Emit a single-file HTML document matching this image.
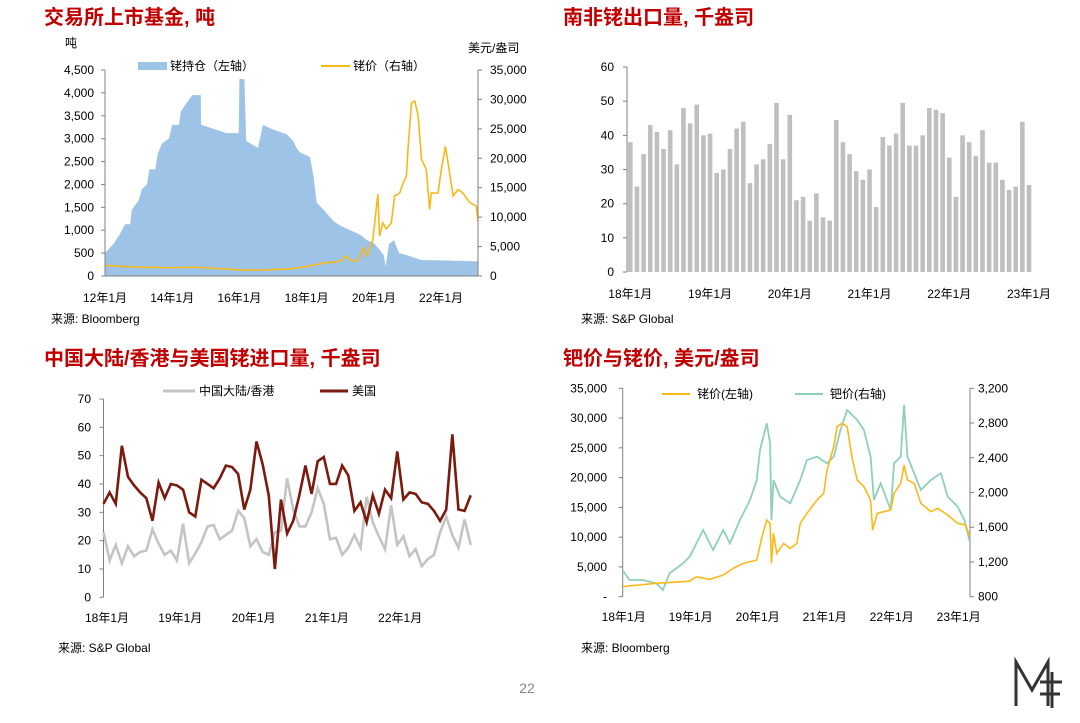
<!DOCTYPE html>
<html><head><meta charset="utf-8"><style>
html,body{margin:0;padding:0;background:#fff;}
svg{display:block;font-family:"Liberation Sans","Noto Sans CJK SC",sans-serif;}
.t{font-size:20px;font-weight:bold;fill:#c00000;}
.l{font-size:12px;fill:#000;}
.s{font-size:12px;fill:#000;}
</style></head><body>
<svg id="pg" width="1080" height="723" viewBox="0 0 1080 723">
<text class="t" x="44" y="24">交易所上市基金, 吨</text>
<text class="t" x="563" y="24">南非铑出口量, 千盎司</text>
<text class="t" x="44" y="365">中国大陆/香港与美国铑进口量, 千盎司</text>
<text class="t" x="563" y="365">钯价与铑价, 美元/盎司</text>
<text class="s" x="51" y="323">来源: Bloomberg</text>
<text class="s" x="581" y="323">来源: S&amp;P Global</text>
<text class="s" x="58" y="652">来源: S&amp;P Global</text>
<text class="s" x="581" y="652">来源: Bloomberg</text>
<text x="527" y="693" text-anchor="middle" font-size="14" fill="#888">22</text>
<g stroke="#333" stroke-width="3" fill="none">
<path d="M1016 706 L1016 662 L1032 690 L1048 662 L1048 706 M1040 682 L1062 682 M1040 694 L1060 694 M1052 672 L1052 708"/>
</g>
<g id="c1"></g><g id="c2"></g><g id="c3"></g><g id="c4"></g>
</svg>
<script>
// ---------- chart 1 data ----------
const holdT=[0,0.25,0.43,0.6,0.75,0.8,1.0,1.1,1.25,1.32,1.5,1.57,1.7,1.9,2.0,2.2,2.26,2.45,2.6,2.85,2.86,3.0,3.6,3.98,4.0,4.15,4.2,4.55,4.7,5.0,5.4,5.6,5.7,5.8,6.1,6.2,6.3,6.5,6.8,7.0,7.3,7.6,7.8,8.0,8.2,8.3,8.35,8.4,8.45,8.6,8.75,9.0,9.3,9.4,10,11.1];
const holdV=[500,700,900,1130,1130,1450,1650,1900,2000,2330,2330,2680,2900,3000,3300,3300,3600,3800,3950,3950,3300,3270,3120,3120,4300,4300,2950,2800,3300,3200,3100,2950,2800,2700,2600,2200,1600,1450,1200,1100,1000,900,780,720,550,450,200,450,700,780,500,450,380,350,340,320];
const priceT=[0,1,2,2.6,3,4,4.5,5,5.5,6,6.5,7,7.18,7.3,7.5,7.6,7.68,7.8,7.97,8.12,8.17,8.27,8.37,8.52,8.62,8.77,8.87,8.97,9.02,9.12,9.22,9.32,9.42,9.56,9.66,9.71,9.91,10.01,10.13,10.21,10.36,10.51,10.65,10.85,11.05,11.1];
const priceV=[1800,1500,1400,1500,1400,1050,1000,1100,1200,1600,2200,2500,3400,2700,2500,3300,4800,3400,6100,13900,6800,9000,8000,9000,13600,14100,15800,17000,21800,29400,29700,27200,19800,18100,11300,14100,14100,18100,22000,19200,13600,14700,14100,12500,11900,9300];
const c1LeftTicks=[0,500,1000,1500,2000,2500,3000,3500,4000,4500];
const c1RightTicks=[0,5000,10000,15000,20000,25000,30000,35000];
const c1XLabels=["12年1月","14年1月","16年1月","18年1月","20年1月","22年1月"];
// ---------- chart 2 data ----------
const exportVals=[38,25,34.5,43,41,36,41.5,31.5,48,43.5,49,40,40.5,29,30,36,42,44,26,31.5,33,37.5,49.5,33,46,21,22,15,23,16,15,44.5,38,34.5,29.5,27,30,19,39.5,37,40.5,49.5,37,37,40,48,47.5,46.5,33.5,22,40,38,34,41.5,32,32,27,24,25,44,25.5];
const c2Ticks=[0,10,20,30,40,50,60];
const c2XLabels=["18年1月","19年1月","20年1月","21年1月","22年1月","23年1月"];
// ---------- chart 3 data ----------
const usVals=[33,37,33,53.5,42.5,39.5,37,35,27,40.5,35,40,39.5,38,30,28.5,41.5,40,38.5,42,46.5,46,43.5,31,38,55,47,36,10,34.5,22.5,27,36,46.5,36.5,48,49.5,40,40,46.5,43,30.5,33.5,26.5,36,29.5,38,35,51.5,34.5,37,36.5,33.5,33,30.5,27,31,57.5,31,30.5,36];
const cnVals=[23,13,18.5,12,18,14.5,16,16.5,24,19,15,16.5,13,26,12,15.5,19.5,25,25.5,20.5,22,23.5,30.5,28,18,20.5,16,15,23,23.5,42,31,25,25,30,38.5,33,20.5,21,15,17.5,22,17.5,35.5,26.5,21.5,17,32.5,18.5,21.5,14.5,17,11,13.5,15,23,28.5,22,17.5,27.5,18.5];
const c3Ticks=[0,10,20,30,40,50,60,70];
const c3XLabels=["18年1月","19年1月","20年1月","21年1月","22年1月"];
// ---------- chart 4 data ----------
const rhT=[0,0.5,1,1.1,1.3,1.5,1.65,1.8,2.0,2.08,2.15,2.2,2.22,2.25,2.3,2.4,2.5,2.6,2.65,2.75,2.9,3.0,3.05,3.15,3.2,3.27,3.35,3.42,3.5,3.6,3.7,3.73,3.8,4.0,4.05,4.15,4.2,4.25,4.35,4.45,4.6,4.7,4.85,5.0,5.12,5.18];
const rhV=[1700,2250,2600,3360,2900,3640,4760,5600,6160,10080,12880,12300,5600,10640,7280,8960,8120,8960,12300,14000,16240,17360,21280,25200,28560,29120,28560,23520,19600,18480,16240,11200,14000,14560,17360,19040,22120,19600,19040,15680,14280,14840,13720,12320,12040,10080];
const pdT=[0,0.1,0.3,0.5,0.6,0.7,0.9,1.0,1.1,1.2,1.35,1.5,1.6,1.75,1.9,2.0,2.05,2.15,2.2,2.22,2.25,2.35,2.5,2.65,2.75,2.9,3.05,3.15,3.25,3.35,3.5,3.6,3.7,3.75,3.85,4.0,4.05,4.15,4.2,4.25,4.35,4.45,4.6,4.75,4.85,5.0,5.1,5.18];
const pdV=[1107,992,992,954,877,1069,1184,1261,1414,1568,1338,1568,1414,1683,1914,2144,2490,2797,2568,1683,2144,1952,1875,2144,2374,2413,2336,2413,2720,2950,2835,2720,2413,1914,2106,1798,2336,2413,3008,2413,2221,2029,2144,2221,1952,1837,1683,1434];
const c4LeftTicks=[0,5000,10000,15000,20000,25000,30000,35000];
const c4RightTicks=[800,1200,1600,2000,2400,2800,3200];
const c4XLabels=["18年1月","19年1月","20年1月","21年1月","22年1月","23年1月"];

const NS="http://www.w3.org/2000/svg";
function mk(parent,tag,attrs,text){const e=document.createElementNS(NS,tag);for(const k in attrs)e.setAttribute(k,attrs[k]);if(text!==undefined)e.textContent=text;parent.appendChild(e);return e;}
function fmt(v){return v.toLocaleString('en-US');}
function line(g,x1,y1,x2,y2,c){return mk(g,'line',{x1,y1,x2,y2,stroke:c||'#808080','stroke-width':1});}

// ===== chart 1 =====
(function(){
const g=document.getElementById('c1');
const X0=105,X1=478,Y0=276,Y1=70;
const x=t=>X0+t*(X1-X0)/11.1;
const yl=v=>Y0-v*(Y0-Y1)/4500;
const yr=v=>Y0-v*(Y0-Y1)/35000;
let d='M'+x(holdT[0])+','+Y0;
holdT.forEach((t,i)=>{d+=' L'+x(t)+','+yl(holdV[i]);});
d+=' L'+x(holdT[holdT.length-1])+','+Y0+' Z';
let a=mk(g,'path',{d,fill:'#9dc3e6'});


let p=mk(g,'polyline',{points:priceT.map((t,i)=>x(t)+','+yr(priceV[i])).join(' '),fill:'none',stroke:'#f9b815','stroke-width':1.6});


line(g,X0,Y1,X0,Y0);line(g,X1,Y1,X1,Y0);line(g,X0,Y0,X1,Y0);
c1LeftTicks.forEach(v=>{line(g,X0-4,yl(v),X0,yl(v));let t=mk(g,'text',{x:94,y:yl(v)+4,'text-anchor':'end',class:'l'},fmt(v));});
c1RightTicks.forEach(v=>{line(g,X1,yr(v),X1+4,yr(v));let t=mk(g,'text',{x:490,y:yr(v)+4,class:'l'},fmt(v));});
c1XLabels.forEach((s,i)=>{let t=mk(g,'text',{x:x(i*2),y:302,'text-anchor':'middle',class:'l'},s);});
let u=mk(g,'text',{x:65,y:47,class:'l'},'吨');
u=mk(g,'text',{x:468,y:52,class:'l'},'美元/盎司');
let lg=mk(g,'rect',{x:138,y:62,width:29,height:8,fill:'#9dc3e6'});
lg=mk(g,'text',{x:170,y:70,class:'l'},'铑持仓（左轴）');
lg=mk(g,'line',{x1:321,y1:66,x2:350,y2:66,stroke:'#f9b815','stroke-width':2});
lg=mk(g,'text',{x:353,y:70,class:'l'},'铑价（右轴）');
})();

// ===== chart 2 =====
(function(){
const g=document.getElementById('c2');
const X0=627,Y0=272,Y1=67,first=630.3,step=6.645;
const y=v=>Y0-v*(Y0-Y1)/60;
exportVals.forEach((v,i)=>{let r=mk(g,'rect',{x:first+i*step-2.3,y:y(v),width:4.6,height:Y0-y(v),fill:'#bfbfbf'});});
line(g,X0,Y1,X0,Y0);
c2Ticks.forEach(v=>{line(g,X0-4,y(v),X0,y(v));let t=mk(g,'text',{x:614,y:y(v)+4,'text-anchor':'end',class:'l'},v);});
c2XLabels.forEach((s,i)=>{let t=mk(g,'text',{x:first+i*12*step,y:298,'text-anchor':'middle',class:'l'},s);});
})();

// ===== chart 3 =====
(function(){
const g=document.getElementById('c3');
const X0=103.5,Y0=597.3,Y1=399,first=103.5,step=6.12;
const y=v=>Y0-v*(Y0-Y1)/70;
line(g,X0,Y1,X0,Y0);
c3Ticks.forEach(v=>{line(g,X0-4,y(v),X0,y(v));let t=mk(g,'text',{x:91,y:y(v)+4,'text-anchor':'end',class:'l'},v);});
let c=mk(g,'polyline',{points:cnVals.map((v,i)=>(first+i*step)+','+y(v)).join(' '),fill:'none',stroke:'#c4c4c4','stroke-width':2.6});


let u=mk(g,'polyline',{points:usVals.map((v,i)=>(first+i*step)+','+y(v)).join(' '),fill:'none',stroke:'#7b1a0f','stroke-width':2.6});


c3XLabels.forEach((s,i)=>{let t=mk(g,'text',{x:107+i*73.3,y:622,'text-anchor':'middle',class:'l'},s);});
let lg=mk(g,'line',{x1:163,y1:391,x2:195,y2:391,stroke:'#c4c4c4','stroke-width':3});
lg=mk(g,'text',{x:199,y:395,class:'l'},'中国大陆/香港');
lg=mk(g,'line',{x1:320,y1:391,x2:348,y2:391,stroke:'#7b1a0f','stroke-width':3});
lg=mk(g,'text',{x:352,y:395,class:'l'},'美国');
})();

// ===== chart 4 =====
(function(){
const g=document.getElementById('c4');
const X0=622.7,X1=970,Y0=596.7,Y1=388.3;
const x=t=>X0+t*67;
const yl=v=>Y0-v*(Y0-Y1)/35000;
const yr=v=>Y0-(v-800)*(Y0-Y1)/2400;
line(g,X0,Y1,X0,Y0);line(g,X1,Y1,X1,Y0);
c4LeftTicks.forEach(v=>{line(g,X0-4,yl(v),X0,yl(v));let t=mk(g,'text',{x:607,y:yl(v)+4,'text-anchor':'end',class:'l'},v===0?'-':fmt(v));});
c4RightTicks.forEach(v=>{line(g,X1,yr(v),X1+4,yr(v));let t=mk(g,'text',{x:978,y:yr(v)+4,class:'l'},fmt(v));});
let pd=mk(g,'polyline',{points:pdT.map((t,i)=>x(t)+','+yr(pdV[i])).join(' '),fill:'none',stroke:'#8fd0b8','stroke-width':1.8});


let rh=mk(g,'polyline',{points:rhT.map((t,i)=>x(t)+','+yl(rhV[i])).join(' '),fill:'none',stroke:'#fbb917','stroke-width':1.6});


c4XLabels.forEach((s,i)=>{let t=mk(g,'text',{x:x(i)+1,y:621,'text-anchor':'middle',class:'l'},s);});
let lg=mk(g,'line',{x1:662,y1:394,x2:690,y2:394,stroke:'#fbb917','stroke-width':2});
lg=mk(g,'text',{x:697,y:398,class:'l'},'铑价(左轴)');
lg=mk(g,'line',{x1:795,y1:394,x2:823,y2:394,stroke:'#8fd0b8','stroke-width':2});
lg=mk(g,'text',{x:830,y:398,class:'l'},'钯价(右轴)');
})();
</script>
</body></html>
